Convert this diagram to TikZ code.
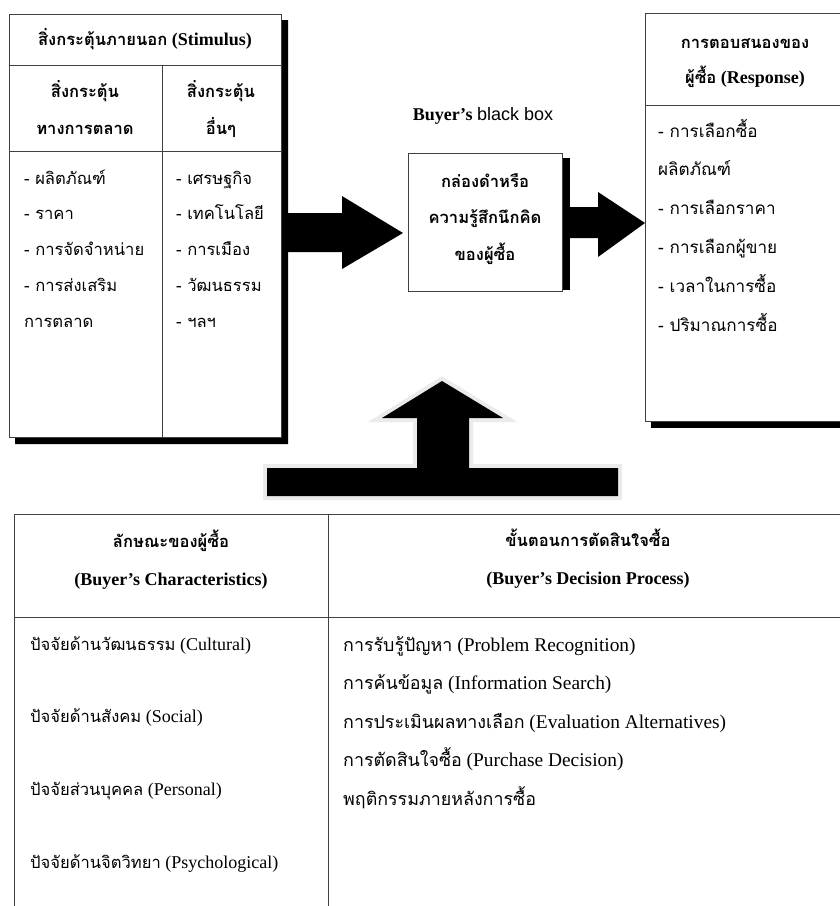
\documentclass[tikz,border=0pt]{standalone}
\usepackage{fontspec}
\setmainfont{Liberation Serif}
\newfontfamily\thaifont[Script=Thai,Scale=0.92]{Loma}
\newfontfamily\arialfont{Liberation Sans}
\newcommand{\tf}[1]{{\thaifont #1}}
\newcommand{\fs}{\fontsize{18}{21}\selectfont}

\begin{document}
\begin{tikzpicture}[x=1pt,y=-1pt,
  frame/.style={draw=black!75,line width=1pt,fill=white,inner sep=0pt,anchor=north west},
  hd/.style={font=\fs\bfseries,anchor=base,inner sep=0pt},
  item/.style={font=\fs,anchor=base west,inner sep=0pt},
  row/.style={item,font=\fontsize{19.4}{23}\selectfont}]
  \useasboundingbox (0,0) rectangle (839,906);

  % outside stimuli
  \node[frame,minimum width=272pt,minimum height=423pt] (stim) at (9,14) {};
  \fill ([yshift=-6pt]stim.north east) rectangle ([xshift=6pt,yshift=-6pt]stim.south east)
        ([xshift=6pt]stim.south west) rectangle ([xshift=6pt,yshift=-6pt]stim.south east);
  \draw[black!75,line width=1pt] (9,65) -- (281,65) (9,151) -- (281,151) (162,65) -- (162,437);
  \node[hd] (stimhd) at (145,45) {\tf{สิ่งกระตุ้นภายนอก} (Stimulus)};
  \node[hd] (mkhd1) at (85,97) {\tf{สิ่งกระตุ้น}};
  \node[hd] (mkhd2) at (85,134) {\tf{ทางการตลาด}};
  \node[hd] (othd1) at (221,97) {\tf{สิ่งกระตุ้น}};
  \node[hd] (othd2) at (221,134) {\tf{อื่นๆ}};
  \foreach \t [count=\i] in {- ผลิตภัณฑ์, - ราคา, - การจัดจำหน่าย, - การส่งเสริม, การตลาด}
    \node[item] (mk\i) at (24,{184+35.75*(\i-1)}) {\tf{\t}};
  \foreach \t [count=\i] in {- เศรษฐกิจ, - เทคโนโลยี, - การเมือง, - วัฒนธรรม, - ฯลฯ}
    \node[item] (ot\i) at (176,{184+35.75*(\i-1)}) {\tf{\t}};

  % black box
  \node[item,anchor=base] (bblabel) at (483,120) {\textbf{Buyer’s} {\arialfont black box}};
  \node[frame,minimum width=154pt,minimum height=138pt] (bb) at (408,153) {};
  \fill ([yshift=-5pt]bb.north east) rectangle ([xshift=7pt,yshift=2pt]bb.south east);
  \foreach \t [count=\i] in {กล่องดำหรือ, ความรู้สึกนึกคิด, ของผู้ซื้อ}
    \node[hd] (bb\i) at (485,{187+36.5*(\i-1)}) {\tf{\t}};

  % response
  \node[frame,minimum width=215pt,minimum height=408pt] (resp) at (645,13) {};
  \fill ([xshift=6pt]resp.south west) rectangle ([xshift=6pt,yshift=-6pt]resp.south east);
  \draw[black!75,line width=1pt] (645,105) -- (860,105);
  \node[hd] (resphd1) at (745,48) {\tf{การตอบสนองของ}};
  \node[hd] (resphd2) at (745,83) {\tf{ผู้ซื้อ} (Response)};
  \foreach \t [count=\i] in {- การเลือกซื้อ, ผลิตภัณฑ์, - การเลือกราคา, - การเลือกผู้ขาย, - เวลาในการซื้อ, - ปริมาณการซื้อ}
    \node[item,font=\fontsize{18.6}{22}\selectfont] (rs\i) at (658,{137+38.8*(\i-1)}) {\tf{\t}};

  % block arrows
  \coordinate (tipL) at (403,233);
  \coordinate (tipR) at (645,223);
  \coordinate (tipU) at (442,381);
  \fill (tipL) -- ++(-61,-37) -- ++(0,17) -- ++(-55,0) -- ++(0,39) -- ++(55,0) -- ++(0,17) -- cycle;
  \fill (tipR) -- ++(-47,-31) -- ++(0,15) -- ++(-29,0) -- ++(0,31) -- ++(29,0) -- ++(0,19) -- cycle;
  \fill[preaction={draw=black!8,line width=8pt}] (tipU) -- ++(-60,37) -- ++(35,0) -- ++(0,50)
    -- ++(-150,0) -- ++(0,28) -- ++(351,0) -- ++(0,-28) -- ++(-149,0) -- ++(0,-50) -- ++(34,0) -- cycle;

  % buyer table
  \node[frame,minimum width=846pt,minimum height=420pt] (buyer) at (14,514) {};
  \draw[black!75,line width=1pt] (14,617) -- (860,617) (328,514) -- (328,930);
  \node[hd] (chhd1) at (171,547) {\tf{ลักษณะของผู้ซื้อ}};
  \node[hd] (chhd2) at (171,585) {(Buyer’s Characteristics)};
  \node[hd] (dphd1) at (588,546) {\tf{ขั้นตอนการตัดสินใจซื้อ}};
  \node[hd] (dphd2) at (588,584) {(Buyer’s Decision Process)};
  \foreach \t/\e [count=\i] in {ปัจจัยด้านวัฒนธรรม/Cultural, ปัจจัยด้านสังคม/Social, ปัจจัยส่วนบุคคล/Personal, ปัจจัยด้านจิตวิทยา/Psychological}
    \node[item] (ch\i) at (30,{650+72.7*(\i-1)}) {\tf{\t} (\e)};
  \foreach \t/\e [count=\i] in {การรับรู้ปัญหา/(Problem Recognition), การค้นข้อมูล/(Information Search), การประเมินผลทางเลือก/(Evaluation Alternatives), การตัดสินใจซื้อ/(Purchase Decision), พฤติกรรมภายหลังการซื้อ/}
    \node[row] (dp\i) at (343,{651+38.5*(\i-1)}) {\tf{\t} \e};
\end{tikzpicture}
\end{document}
